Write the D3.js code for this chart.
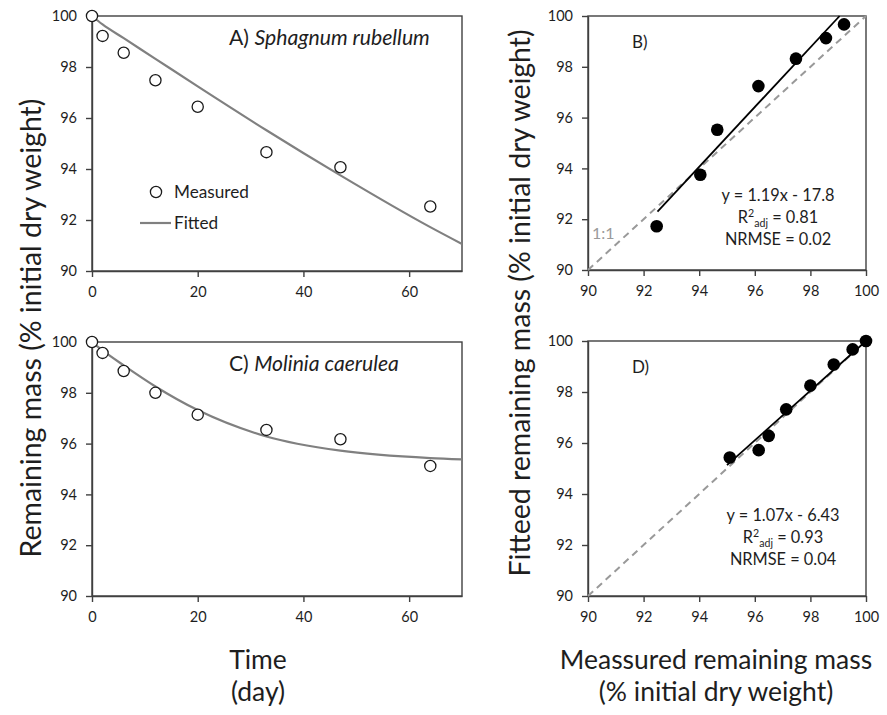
<!DOCTYPE html>
<html><head><meta charset="utf-8">
<script src="https://cdn.jsdelivr.net/npm/d3@7"></script>
<style>
body{margin:0;background:#fff;}
svg text{font-family: Lato, "Open Sans", sans-serif; fill:#1e1e1e;}
</style></head><body>
<svg id="chart" width="887" height="715"></svg>
<script>
// ---------------- data ----------------
const yTicks = [90, 92, 94, 96, 98, 100];
const massTicks = [90, 92, 94, 96, 98, 100];
const timeTicks = [0, 20, 40, 60];

// Panel A – Sphagnum rubellum
const daysA = [0, 2, 6, 12, 20, 33, 47, 64];
const measuredA = [100, 99.22, 98.56, 97.48, 96.44, 94.66, 94.07, 92.53];
const fitDaysA = [0, 2, 6, 12, 20, 33, 47, 64, 70];
const fittedA = [100, 99.67, 99.13, 98.32, 97.24, 95.52, 93.75, 91.72, 91.06];

// Panel C – Molinia caerulea
const daysC = [0, 2, 6, 12, 20, 33, 47, 64];
const measuredC = [100, 99.57, 98.86, 98.0, 97.14, 96.54, 96.17, 95.12];
const fitDaysC = [0, 2, 6, 12, 20, 33, 47, 64, 70];
const fittedC = [100, 99.67, 99.08, 98.25, 97.32, 96.28, 95.72, 95.43, 95.38];

// Panel B – measured vs fitted (S. rubellum)
const measuredB = [92.47, 94.04, 94.65, 96.13, 97.48, 98.56, 99.21];
const fittedB = [91.72, 93.75, 95.52, 97.24, 98.32, 99.13, 99.67];
const regBx = [92.5, 99.05];
const regBy = [92.3, 100];
const statsB = ["y = 1.19x - 17.8", "0.81", "0.02"];

// Panel D – measured vs fitted (M. caerulea)
const measuredD = [95.10, 96.14, 96.50, 97.13, 98.0, 98.84, 99.52, 100];
const fittedD = [95.43, 95.72, 96.28, 97.32, 98.25, 99.08, 99.67, 100];
const regDx = [95.0, 100];
const regDy = [95.13, 100];
const statsD = ["y = 1.07x - 6.43", "0.93", "0.04"];

const oneToOne = [90, 100];

// ---------------- drawing ----------------
const svg = d3.select("#chart");
const AX = "#404040";

function fitText(sel, target){
  const w = sel.node().getComputedTextLength();
  const fs = parseFloat(sel.style("font-size"));
  const nfs = fs * target / w;
  sel.style("font-size", nfs + "px");
  return nfs;
}

function panel(box, xDomain, xTicks){
  const g = svg.append("g");
  const x = d3.scaleLinear().domain(xDomain).range([box.x0, box.x1]);
  const y = d3.scaleLinear().domain([90, 100]).range([box.y1, box.y0]);
  g.append("rect").attr("x", box.x0).attr("y", box.y0)
    .attr("width", box.x1 - box.x0).attr("height", box.y1 - box.y0)
    .attr("fill", "none").attr("stroke", AX).attr("stroke-width", 1.4);
  const ya = g.append("g").attr("transform", `translate(${box.x0},0)`)
    .call(d3.axisLeft(y).tickValues(yTicks).tickSize(6).tickPadding(9).tickSizeOuter(0));
  const xa = g.append("g").attr("transform", `translate(0,${box.y1})`)
    .call(d3.axisBottom(x).tickValues(xTicks).tickSize(6).tickPadding(10).tickSizeOuter(0));
  [ya, xa].forEach(a => {
    a.select(".domain").attr("stroke", AX).attr("stroke-width", 1.4);
    a.selectAll(".tick line").attr("stroke", AX).attr("stroke-width", 1.4);
    a.selectAll(".tick text").style("font-size", "14.5px").attr("fill", "#1e1e1e")
      .style("font-family", "Lato, 'Open Sans', sans-serif");
  });
  return {g, x, y};
}

const boxA = {x0: 92, x1: 462, y0: 16, y1: 271};
const boxC = {x0: 92, x1: 462, y0: 342, y1: 596};
const boxB = {x0: 588, x1: 866, y0: 16, y1: 270};
const boxD = {x0: 588, x1: 866, y0: 341, y1: 596};

function timePanel(box, days, measured, fitDays, fitted, label, species, titleW){
  const p = panel(box, [0, 70], timeTicks);
  const line = d3.line().x(d => p.x(d[0])).y(d => p.y(d[1])).curve(d3.curveMonotoneX);
  p.g.append("path").datum(fitDays.map((d, i) => [d, fitted[i]]))
    .attr("d", line).attr("fill", "none").attr("stroke", "#808080").attr("stroke-width", 2.2);
  p.g.selectAll("circle.m").data(days.map((d, i) => [d, measured[i]])).enter()
    .append("circle").attr("cx", d => p.x(d[0])).attr("cy", d => p.y(d[1])).attr("r", 5.6)
    .attr("fill", "#fff").attr("stroke", "#1a1a1a").attr("stroke-width", 1.3);
  const t = p.g.append("text").attr("x", 229).attr("y", box.y0 + 29).style("font-size", "17px");
  t.append("tspan").text(label + " ");
  t.append("tspan").style("font-style", "italic").text(species);
  fitText(t, titleW);
  return p;
}

function scatterPanel(box, mx, fy, rx, ry, label, stats, statY){
  const p = panel(box, [90, 100], massTicks);
  p.g.append("line").attr("x1", p.x(oneToOne[0])).attr("y1", p.y(oneToOne[0]))
    .attr("x2", p.x(oneToOne[1])).attr("y2", p.y(oneToOne[1]))
    .attr("stroke", "#999").attr("stroke-width", 2).attr("stroke-dasharray", "7,5");
  p.g.append("line").attr("x1", p.x(rx[0])).attr("y1", p.y(ry[0]))
    .attr("x2", p.x(rx[1])).attr("y2", p.y(ry[1]))
    .attr("stroke", "#000").attr("stroke-width", 1.8);
  p.g.selectAll("circle.f").data(mx.map((d, i) => [d, fy[i]])).enter()
    .append("circle").attr("cx", d => p.x(d[0])).attr("cy", d => p.y(d[1])).attr("r", 6.3)
    .attr("fill", "#000");
  p.g.append("text").attr("x", box.x0 + 44).attr("y", box.y0 + 32).style("font-size", "17px").text(label);
  const cx = statY.cx;
  const s1 = p.g.append("text").attr("x", cx).attr("y", statY.y).attr("text-anchor", "middle")
    .style("font-size", "15px").text(stats[0]);
  const fs = fitText(s1, 113);
  const s2 = p.g.append("text").attr("x", cx).attr("y", statY.y + 22).attr("text-anchor", "middle")
    .style("font-size", fs + "px");
  s2.append("tspan").text("R");
  s2.append("tspan").attr("dy", -6).style("font-size", (fs * 0.65) + "px").text("2");
  s2.append("tspan").attr("dy", 10).style("font-size", (fs * 0.65) + "px").text("adj");
  s2.append("tspan").attr("dy", -4).text(" = " + stats[1]);
  p.g.append("text").attr("x", cx).attr("y", statY.y + 44).attr("text-anchor", "middle")
    .style("font-size", fs + "px").text("NRMSE = " + stats[2]);
  return p;
}

const pA = timePanel(boxA, daysA, measuredA, fitDaysA, fittedA, "A)", "Sphagnum rubellum", 201);
timePanel(boxC, daysC, measuredC, fitDaysC, fittedC, "C)", "Molinia caerulea", 170);
const pB = scatterPanel(boxB, measuredB, fittedB, regBx, regBy, "B)", statsB, {cx: 778, y: 201});
scatterPanel(boxD, measuredD, fittedD, regDx, regDy, "D)", statsD, {cx: 783, y: 521});

// 1:1 label
pB.g.append("text").attr("x", 592).attr("y", 239).style("font-size", "16px")
  .style("fill", "#9a9a9a").text("1:1");

// Legend in panel A
const lg = pA.g.append("g");
lg.append("circle").attr("cx", 156).attr("cy", 192).attr("r", 5.6)
  .attr("fill", "#fff").attr("stroke", "#1a1a1a").attr("stroke-width", 1.3);
const lt1 = lg.append("text").attr("x", 174).attr("y", 197.5).style("font-size", "15px").text("Measured");
const lfs = fitText(lt1, 75);
lg.append("line").attr("x1", 140).attr("x2", 171).attr("y1", 223).attr("y2", 223)
  .attr("stroke", "#808080").attr("stroke-width", 2.2);
lg.append("text").attr("x", 174).attr("y", 228.5).style("font-size", lfs + "px").text("Fitted");

// Axis titles
const tMeas = svg.append("text").attr("x", 716).attr("y", 669).attr("text-anchor", "middle")
  .style("font-size", "24px").text("Meassured remaining mass");
const TF = fitText(tMeas, 336);
const BF = TF * 0.93;
tMeas.style("font-size", BF + "px");
svg.append("text").attr("x", 716).attr("y", 701).attr("text-anchor", "middle")
  .style("font-size", BF + "px").text("(% initial dry weight)");
svg.append("text").attr("x", 258).attr("y", 669).attr("text-anchor", "middle")
  .style("font-size", BF + "px").text("Time");
svg.append("text").attr("x", 258).attr("y", 701).attr("text-anchor", "middle")
  .style("font-size", BF + "px").text("(day)");
svg.append("text").attr("transform", "translate(41,328) rotate(-90)").attr("text-anchor", "middle")
  .style("font-size", TF + "px").text("Remaining mass (% initial dry weight)");
svg.append("text").attr("transform", "translate(530,303) rotate(-90)").attr("text-anchor", "middle")
  .style("font-size", TF + "px").text("Fitteed remaining mass (% initial dry weight)");
</script>
</body></html>
